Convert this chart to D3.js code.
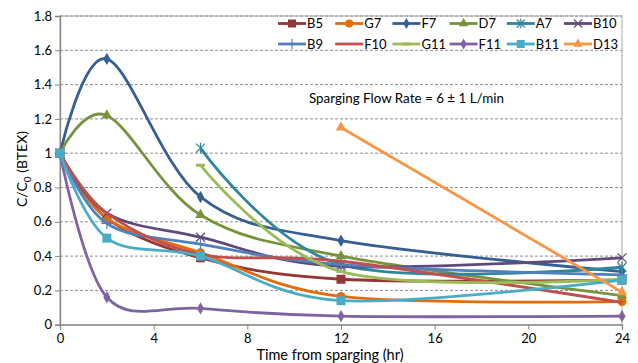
<!DOCTYPE html>
<html>
<head>
<meta charset="utf-8">
<script src="https://cdn.jsdelivr.net/npm/d3@7"></script>
<style>
body { margin: 0; background: #fff; }
text { font-family: Lato, "Liberation Sans", sans-serif; fill: #000; }
</style>
</head>
<body>
<svg width="638" height="363"></svg>
<script>
var svg = d3.select('svg');

// hours since sparging started
var times = [0, 2, 6, 12, 24];
var xTicks = [0, 4, 8, 12, 16, 20, 24];
var yTicks = [0, 0.2, 0.4, 0.6, 0.8, 1, 1.2, 1.4, 1.6, 1.8];

var names = ["B5", "G7", "F7", "D7", "A7", "B10", "B9", "F10", "G11", "F11", "B11", "D13"];
var b5 = [1, 0.62, 0.39, 0.265, 0.26];
var g7 = [1, 0.62, 0.42, 0.165, 0.135];
var f7 = [1, 1.55, 0.745, 0.49, 0.31];
var d7 = [1, 1.22, 0.64, 0.40, 0.17];
var a7 = [null, null, 1.03, 0.35, 0.335];
var b10 = [1, 0.65, 0.51, 0.34, 0.39];
var b9 = [1, 0.59, 0.47, 0.35, 0.29];
var f10 = [1, 0.65, 0.41, 0.37, 0.13];
var g11 = [null, null, 0.93, 0.31, 0.265];
var f11 = [1, 0.16, 0.095, 0.05, 0.05];
var b11 = [1, 0.505, 0.40, 0.14, 0.26];
var d13 = [null, null, null, 1.15, 0.19];

var values = [b5, g7, f7, d7, a7, b10, b9, f10, g11, f11, b11, d13];
var colors = ["#953735", "#E46C0A", "#376092", "#77933C", "#31859C", "#604A7B",
	"#4F81BD", "#C0504D", "#9BBB59", "#8064A2", "#4BACC6", "#F79646"];
var markers = ["square", "circle", "diamond", "triangle", "star", "x",
	"plus", "none", "dash", "diamond", "square", "triangle"];

var x = d3.scaleLinear().domain([0, 24]).range([60, 622]);
var y = d3.scaleLinear().domain([0, 1.8]).range([324.7, 16]);

//Gridlines
svg.append('g')
	.selectAll('line')
	.data(yTicks.slice(1))
	.enter()
	.append('line')
	.attr('x1', x(0)).attr('x2', x(24))
	.attr('y1', function(d) { return y(d) }).attr('y2', function(d) { return y(d) })
	.attr('stroke', '#8c8c8c')
	.attr('stroke-width', 1)
	.attr('stroke-dasharray', '3,2');

//Plot area border
svg.append('rect')
	.attr('x', x(0)).attr('y', y(1.8))
	.attr('width', x(24) - x(0)).attr('height', y(0) - y(1.8))
	.attr('fill', 'none')
	.attr('stroke', '#a6a6a6');

//Axes
var xAxis = svg.append('g')
	.attr('transform', 'translate(0,' + y(0) + ')')
	.call(d3.axisBottom(x).tickValues(xTicks).tickSize(5).tickPadding(4));
var yAxis = svg.append('g')
	.attr('transform', 'translate(' + x(0) + ',0)')
	.call(d3.axisLeft(y).tickValues(yTicks).tickSize(5).tickPadding(3)
		.tickFormat(function(d) { return d3.format('')(+d.toFixed(1)) }));
[xAxis, yAxis].forEach(function(a) {
	a.select('.domain').attr('stroke', '#868686').attr('stroke-width', 1.3);
	a.selectAll('.tick line').attr('stroke', '#868686');
	a.selectAll('text').attr('font-size', 13).attr('font-family', 'Lato, sans-serif').attr('fill', '#000');
});

//Marker shapes
function drawMarker(g, type, color, s) {
	if (type == 'square') {
		g.append('rect').attr('x', -s / 2).attr('y', -s / 2).attr('width', s).attr('height', s).attr('fill', color);
	} else if (type == 'circle') {
		g.append('circle').attr('r', s / 2).attr('fill', color);
	} else if (type == 'diamond') {
		g.append('path').attr('d', d3.symbol(d3.symbolDiamond, s * s * 0.55)()).attr('fill', color);
	} else if (type == 'triangle') {
		g.append('path').attr('d', d3.symbol(d3.symbolTriangle, s * s * 0.6)()).attr('fill', color);
	} else if (type == 'x' || type == 'star') {
		var h = s / 2;
		g.append('path').attr('d', 'M' + -h + ',' + -h + 'L' + h + ',' + h + 'M' + -h + ',' + h + 'L' + h + ',' + -h)
			.attr('stroke', color).attr('stroke-width', 1.2);
		if (type == 'star')
			g.append('path').attr('d', 'M0,' + -h * 1.2 + 'V' + h * 1.2).attr('stroke', color).attr('stroke-width', 1.2);
	} else if (type == 'plus') {
		var p = s / 2 + 1;
		g.append('path').attr('d', 'M' + -p + ',0H' + p + 'M0,' + -p + 'V' + p)
			.attr('stroke', color).attr('stroke-width', 1.2);
	} else if (type == 'dash') {
		g.append('path').attr('d', 'M' + -s / 2 + ',0H' + s / 2).attr('stroke', color).attr('stroke-width', 3);
	}
}

//Series lines and markers
var line = d3.line()
	.defined(function(d) { return d.v != null })
	.x(function(d) { return x(d.t) })
	.y(function(d) { return y(d.v) })
	.curve(d3.curveCardinal.tension(0));

names.forEach(function(name, i) {
	var pts = times.map(function(t, j) { return {t: t, v: values[i][j]} })
		.filter(function(d) { return d.v != null });
	var g = svg.append('g');
	g.append('path')
		.attr('d', line(pts))
		.attr('fill', 'none')
		.attr('stroke', colors[i])
		.attr('stroke-width', 2.8);
	pts.forEach(function(d) {
		var m = g.append('g').attr('transform', 'translate(' + x(d.t) + ',' + y(d.v) + ')');
		drawMarker(m, markers[i], colors[i], 9);
	});
});

//Legend
var legend = svg.append('g');
names.forEach(function(name, i) {
	var col = i % 6, row = Math.floor(i / 6);
	var lx = 278 + col * 57.2, ly = 23.5 + row * 20.5;
	var item = legend.append('g').attr('transform', 'translate(' + lx + ',' + ly + ')');
	item.append('line').attr('x1', 0).attr('x2', 28).attr('y1', 0).attr('y2', 0)
		.attr('stroke', colors[i]).attr('stroke-width', 2.8);
	var m = item.append('g').attr('transform', 'translate(14,0)');
	drawMarker(m, markers[i], colors[i], 8);
	item.append('text').attr('x', 29).attr('y', 4.5).attr('font-size', 13).text(name);
});

//Annotation
svg.append('text')
	.attr('x', 309).attr('y', 103)
	.attr('font-size', 13.4)
	.text('Sparging Flow Rate = 6 \u00b1 1 L/min');

//Axis titles
svg.append('text')
	.attr('x', 330).attr('y', 360)
	.attr('text-anchor', 'middle')
	.attr('font-size', 14.5)
	.text('Time from sparging (hr)');

var yt = svg.append('text')
	.attr('transform', 'translate(27,169) rotate(-90)')
	.attr('text-anchor', 'middle')
	.attr('font-size', 14);
yt.append('tspan').text('C/C');
yt.append('tspan').attr('font-size', 10).attr('dy', 4).text('0');
yt.append('tspan').attr('dy', -4).text(' (BTEX)');
</script>
</body>
</html>
